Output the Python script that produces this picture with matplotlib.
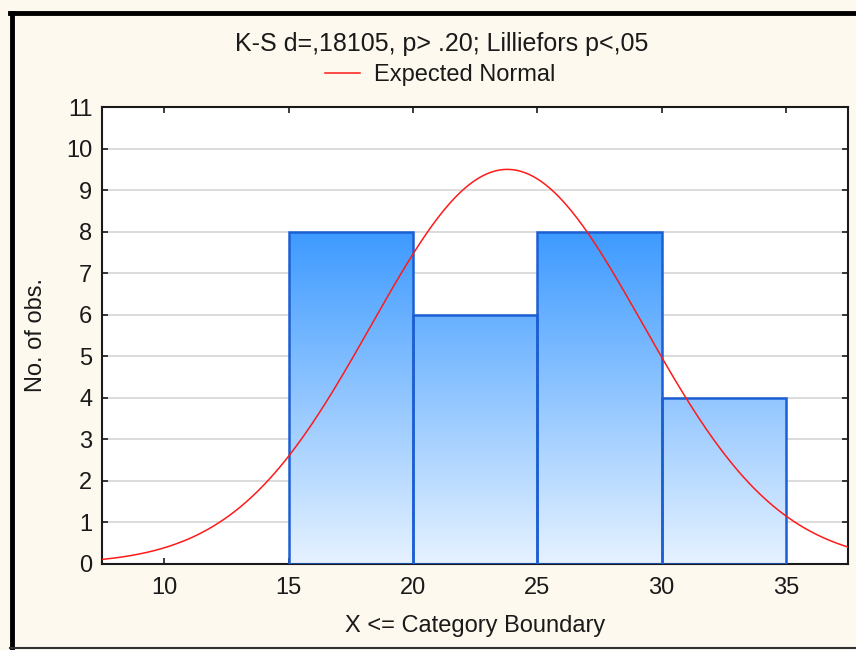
import numpy as np
import matplotlib.pyplot as plt
from matplotlib.patches import Rectangle
from matplotlib.lines import Line2D
from matplotlib.colors import LinearSegmentedColormap

plt.rcParams['font.family'] = ['Liberation Sans', 'DejaVu Sans']

# histogram data
bin_edges = [15, 20, 25, 30, 35]
counts = [8, 6, 8, 4]
# expected normal parameters
mean = 23.8
sd = 5.46
n_obs = sum(counts)
bin_w = 5

title = "K-S d=,18105, p> .20; Lilliefors p<,05"
x_ticks = [10, 15, 20, 25, 30, 35]
y_ticks = list(range(0, 12))

bg = '#fef9ee'
W, H = 856, 650
fs = 17
fig = plt.figure(figsize=(W / 100, H / 100), dpi=100, facecolor=bg)
ax = fig.add_axes([102 / W, (H - 564) / H, (848 - 102) / W, (564 - 107) / H])
ax.set_facecolor('white')

cmap = LinearSegmentedColormap.from_list('bars', ['#e6f2ff', '#3d9aff'])
grad = np.linspace(0, 1, 256).reshape(-1, 1)

for i, c in enumerate(counts):
    x0, x1 = bin_edges[i], bin_edges[i + 1]
    rect = Rectangle((x0, 0), x1 - x0, c, facecolor='none',
                     edgecolor='#1c5fd4', lw=1.8, zorder=3)
    ax.add_patch(rect)
    im = ax.imshow(grad, cmap=cmap, origin='lower', aspect='auto',
                   extent=[7.5, 37.5, 0, 8], zorder=2)
    im.set_clip_path(rect)

xs = np.linspace(7.5, 37.5, 400)
ys = n_obs * bin_w / (sd * np.sqrt(2 * np.pi)) * np.exp(-0.5 * ((xs - mean) / sd) ** 2)
ax.plot(xs, ys, color='#ff1a1a', lw=1.1, zorder=4, label='Expected Normal')

ax.set_xlim(7.5, 37.5)
ax.set_ylim(0, 11)
ax.set_xticks(x_ticks)
ax.set_yticks(y_ticks)
ax.set_axisbelow(True)
ax.yaxis.grid(True, color='#d9d9d9', lw=1.3)
ax.tick_params(direction='in', length=4, width=1.2, top=True, right=True,
               labelsize=fs, colors='#1a1a1a')
ax.tick_params(axis='y', pad=7)
ax.tick_params(axis='x', pad=9)
for s in ax.spines.values():
    s.set_linewidth(1.5)
    s.set_color('#1a1a1a')

ax.set_xlabel('X <= Category Boundary', fontsize=fs, color='#1a1a1a', labelpad=12)
ax.set_ylabel('No. of obs.', fontsize=fs, color='#1a1a1a', labelpad=14)

fig.text(442 / W, 1 - 44 / H, title, ha='center', va='center',
         fontsize=18, color='#1a1a1a')
fig.legend(loc='center', bbox_to_anchor=(440 / W, 1 - 75 / H), frameon=False,
           fontsize=fs, handlelength=1.5, handletextpad=0.6, labelcolor='#1a1a1a')

# outer frame
fig.add_artist(Line2D([10 / W, 1], [1 - 13 / H, 1 - 13 / H], color='black', lw=3.5))
fig.add_artist(Line2D([12 / W, 12 / W], [1 - 13 / H, 1 - 648 / H], color='black', lw=3.5))
fig.add_artist(Line2D([10 / W, 1], [1 - 648 / H, 1 - 648 / H], color='#333333', lw=1.5))

fig.savefig('out.png', dpi=100, facecolor=bg)
